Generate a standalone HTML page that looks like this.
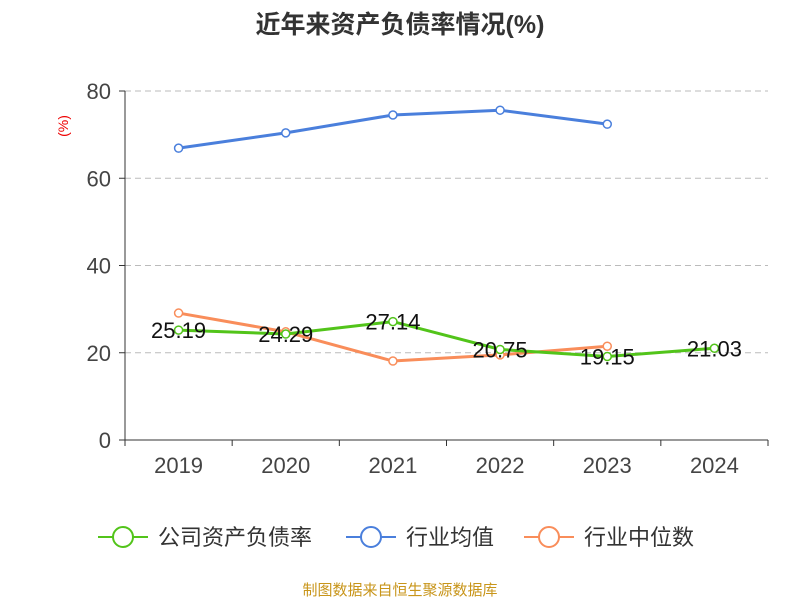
<!DOCTYPE html>
<html><head><meta charset="utf-8"><style>
body{margin:0;background:#fff;}
text{font-family:"Liberation Sans","Noto Sans CJK SC",sans-serif;}
</style></head><body>
<svg id="chart" width="800" height="600" xmlns="http://www.w3.org/2000/svg">
<text x="400" y="33" text-anchor="middle" font-size="25" font-weight="bold" fill="#333">近年来资产负债率情况(%)</text>
<text x="68" y="126" text-anchor="middle" font-size="14" fill="#e00" transform="rotate(-90 68 126)">(%)</text>
<g id="grid"></g><g id="axes"></g><g id="series"></g>
<g>
<g><line x1="98" y1="537" x2="148" y2="537" stroke="#52c41a" stroke-width="2"/><circle cx="123" cy="537" r="10" fill="#fff" stroke="#52c41a" stroke-width="2"/><text x="158" y="545" font-size="22" fill="#333">公司资产负债率</text></g>
<g><line x1="346" y1="537" x2="396" y2="537" stroke="#4a7fdc" stroke-width="2"/><circle cx="371" cy="537" r="10" fill="#fff" stroke="#4a7fdc" stroke-width="2"/><text x="406" y="545" font-size="22" fill="#333">行业均值</text></g>
<g><line x1="524" y1="537" x2="574" y2="537" stroke="#f98d5a" stroke-width="2"/><circle cx="549" cy="537" r="10" fill="#fff" stroke="#f98d5a" stroke-width="2"/><text x="584" y="545" font-size="22" fill="#333">行业中位数</text></g>
</g>
<text x="400" y="595" text-anchor="middle" font-size="15" fill="#c8951a">制图数据来自恒生聚源数据库</text>
</svg>
<script>
const categories=["2019","2020","2021","2022","2023","2024"];
const companyValues=[25.19,24.29,27.14,20.75,19.15,21.03];
const industryAvg=[66.9,70.4,74.5,75.6,72.4,null];
const industryMedian=[29.1,24.8,18.1,19.5,21.5,null];
const yTicks=[0,20,40,60,80];
const NS="http://www.w3.org/2000/svg";
const x0=125,x1=768,yBase=440,yTop=91,yMax=80;
const bw=(x1-x0)/categories.length;
const xs=i=>x0+bw*(i+0.5);
const ys=v=>yBase-(v/yMax)*(yBase-yTop);
function mk(tag,attrs,parent){const e=document.createElementNS(NS,tag);for(const k in attrs)e.setAttribute(k,attrs[k]);parent.appendChild(e);return e;}
const grid=document.getElementById('grid'),axes=document.getElementById('axes'),ser=document.getElementById('series');
yTicks.forEach(t=>{
 const y=ys(t);
 if(t>0){const g=mk('line',{x1:x0,x2:x1,y1:y,y2:y,stroke:'#bbb','stroke-dasharray':'6,4'},grid);
 
 }
 const tk=mk('line',{x1:x0-6,x2:x0,y1:y,y2:y,stroke:'#333'},axes);
 
 
 const lb=mk('text',{x:x0-14,y:y+8,'text-anchor':'end','font-size':'22',fill:'#444'},axes);lb.textContent=t;
 
 
});
const ya=mk('line',{x1:x0,x2:x0,y1:yTop,y2:yBase,stroke:'#333'},axes);


const xa=mk('line',{x1:x0,x2:x1,y1:yBase,y2:yBase,stroke:'#333'},axes);


for(let i=0;i<=categories.length;i++){const t=mk('line',{x1:x0+bw*i,x2:x0+bw*i,y1:yBase,y2:yBase+6,stroke:'#333'},axes);
 
 }
categories.forEach((c,i)=>{const l=mk('text',{x:xs(i),y:473,'text-anchor':'middle','font-size':'22',fill:'#444'},axes);l.textContent=c;
 
 });
function drawSeries(vals,color,name,labels){
 const pts=[];vals.forEach((v,i)=>{if(v!=null)pts.push([xs(i),ys(v)]);});
 const p=mk('polyline',{points:pts.map(p=>p.join(',')).join(' '),fill:'none',stroke:color,'stroke-width':'3'},ser);
 
 
 vals.forEach((v,i)=>{if(v==null)return;
  const c=mk('circle',{cx:xs(i),cy:ys(v),r:4,fill:'#fff',stroke:color,'stroke-width':'1.5'},ser);
  
  
  if(labels){const t=mk('text',{x:xs(i),y:ys(v)+8,'text-anchor':'middle','font-size':'22',fill:'#111'},ser);t.textContent=v.toFixed(2);
  
  }
 });
}
drawSeries(industryAvg,'#4a7fdc','industry-avg',false);
drawSeries(industryMedian,'#f98d5a','industry-median',false);
drawSeries(companyValues,'#52c41a','company',true);
</script>
</body></html>
